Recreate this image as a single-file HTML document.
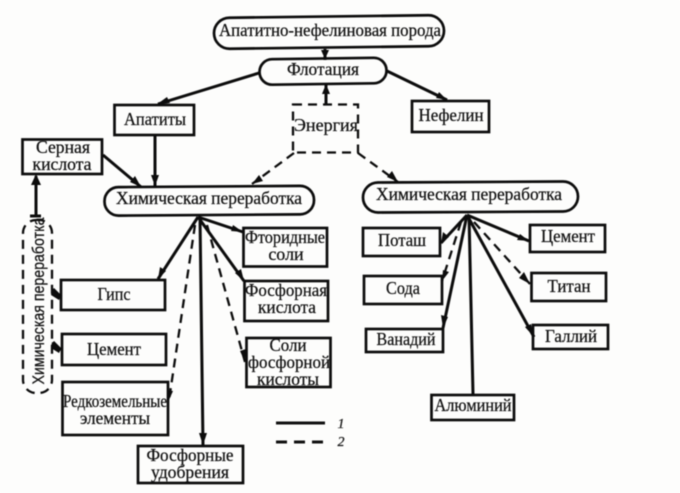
<!DOCTYPE html>
<html><head><meta charset="utf-8"><style>
html,body{margin:0;padding:0;background:#fdfdfc}
svg{display:block;filter:blur(.4px)}
text{font-family:"Liberation Serif",serif;font-size:18px;fill:#111;stroke:#111;stroke-width:.25;text-anchor:middle}
.b{fill:none;stroke:#0c0c0c;stroke-width:2.7}
.l{stroke:#0c0c0c;stroke-width:3;fill:none}
.d{stroke:#0c0c0c;stroke-width:2.300;fill:none;stroke-dasharray:9 6}
.a{fill:#0c0c0c;stroke:none}
</style></head><body>
<svg width="680" height="493" viewBox="0 0 680 493" xmlns="http://www.w3.org/2000/svg">
<rect width="680" height="493" fill="#fdfdfc"/>
<!-- pills -->
<rect class="b" x="214" y="16.500" width="230" height="31" rx="15.500" transform="rotate(-0.7 329 32)"/>
<rect class="b" x="259.500" y="58.500" width="127" height="25.500" rx="12.700" transform="rotate(-0.8 323 71)"/>
<rect class="b" x="104.500" y="186.500" width="209.500" height="28.500" rx="14" transform="rotate(-0.4 209 200)"/>
<rect class="b" x="363" y="182" width="215" height="30" rx="15" transform="rotate(-0.3 470 197)"/>
<!-- solid boxes -->
<rect class="b" x="114.500" y="105" width="79.500" height="30"/>
<rect class="b" x="22.500" y="139.500" width="79.500" height="34.500"/>
<rect class="b" x="412" y="101" width="77" height="31"/>
<rect class="b" x="243.500" y="228" width="83.500" height="38.500"/>
<rect class="b" x="61" y="280" width="104" height="30"/>
<rect class="b" x="62" y="334" width="104" height="31"/>
<rect class="b" x="62.500" y="382" width="105.500" height="53"/>
<rect class="b" x="138" y="446" width="105" height="37"/>
<rect class="b" x="244.500" y="281" width="83.500" height="40"/>
<rect class="b" x="246.500" y="338" width="84" height="49"/>
<rect class="b" x="363" y="228" width="77" height="28"/>
<rect class="b" x="364" y="276" width="78" height="28"/>
<rect class="b" x="366" y="329" width="77" height="23"/>
<rect class="b" x="530" y="225" width="75" height="27"/>
<rect class="b" x="531.500" y="273" width="74.500" height="28"/>
<rect class="b" x="533" y="325" width="75" height="24"/>
<rect class="b" x="431.500" y="395" width="82.500" height="25"/>
<!-- dashed shapes -->
<rect class="d" x="293" y="104.500" width="65" height="48" stroke-dasharray="10 6"/>
<rect class="d" x="23" y="220" width="29" height="173" rx="13" stroke-width="2.600" stroke-dasharray="10 7"/>
<!-- solid connectors -->
<path class="l" d="M325 49V60M326 84V104M259 73L158 104M387 71L447 100M155 136V186M103 155L141 187M36 216V176M30 216H41M198 217L158 279M198 217L243 232M198 217L244 281M200 217L203 445M467 215L441 243M467 215L529 241M467 215L443 328M467 215L534 337M469 215L473 394M53 289L61 297M53 342L61 350"/>
<!-- dashed connectors -->
<path class="d" d="M294 153L252 184M358 153L398 182M195 225L169 400M207 225L245 362M461 222L442 281M474 222L530 284"/>
<!-- arrowheads -->
<path class="a" d="M325 59l-4-9h8zM326 84l-4 10h8zM156 105l11-8 3 6zM447 100l-11-2 3-6zM155 186l-4-11h8zM141 187l-11-5 5-6zM36 174l-5 11h10zM158 279l2-12 6 4zM243 232l-12-1 2-6zM244 281l-9-8 6-4zM203 445l-4-12h8zM441 243l2-11 6 5zM529 241l-12-1 3-6zM443 328l-2-13 7 2zM534 337l-9-10 6-3zM252 184l7-9 4 6zM398 182l-11-5 5-6zM169 400l-2-10 6 1zM245 362l-5-11 6-2zM442 281l1-11 6 2zM530 284l-11-6 5-6zM52 289l9 7-2 4-8-5zM52 342l9 7-2 4-8-5z"/>
<!-- legend -->
<path d="M276 423H325" stroke="#111" stroke-width="3"/>
<path d="M276 442H326" stroke="#111" stroke-width="3" stroke-dasharray="11 7"/>
<text x="341" y="428" font-style="italic" style="font-size:14px">1</text><text x="341" y="446" font-style="italic" style="font-size:14px">2</text>
<!-- labels -->
<text x="330" y="36" textLength="222" lengthAdjust="spacingAndGlyphs">Апатитно-нефелиновая порода</text>
<text x="323" y="75" textLength="72" lengthAdjust="spacingAndGlyphs">Флотация</text>
<text x="155" y="125" textLength="62" lengthAdjust="spacingAndGlyphs">Апатиты</text>
<text x="451" y="121" textLength="65" lengthAdjust="spacingAndGlyphs">Нефелин</text>
<text x="326" y="131" textLength="64" lengthAdjust="spacingAndGlyphs">Энергия</text>
<text x="63" y="153" textLength="54" lengthAdjust="spacingAndGlyphs">Серная</text>
<text x="62" y="170" textLength="59" lengthAdjust="spacingAndGlyphs">кислота</text>
<text x="209" y="204" textLength="186" lengthAdjust="spacingAndGlyphs">Химическая переработка</text>
<text x="469" y="200" textLength="186" lengthAdjust="spacingAndGlyphs">Химическая переработка</text>
<text x="285" y="243" textLength="80" lengthAdjust="spacingAndGlyphs">Фторидные</text>
<text x="286" y="260">соли</text>
<text x="114" y="300" textLength="33" lengthAdjust="spacingAndGlyphs">Гипс</text>
<text x="114" y="355" textLength="54" lengthAdjust="spacingAndGlyphs">Цемент</text>
<text x="115" y="407" textLength="104" lengthAdjust="spacingAndGlyphs">Редкоземельные</text>
<text x="115" y="424" textLength="70" lengthAdjust="spacingAndGlyphs">элементы</text>
<text x="190" y="461" textLength="87" lengthAdjust="spacingAndGlyphs">Фосфорные</text>
<text x="190" y="478" textLength="78" lengthAdjust="spacingAndGlyphs">удобрения</text>
<text x="286" y="296" textLength="82" lengthAdjust="spacingAndGlyphs">Фосфорная</text>
<text x="287" y="313" textLength="58" lengthAdjust="spacingAndGlyphs">кислота</text>
<text x="288" y="351" textLength="37" lengthAdjust="spacingAndGlyphs">Соли</text>
<text x="289" y="368" textLength="82" lengthAdjust="spacingAndGlyphs">фосфорной</text>
<text x="288" y="385" textLength="62" lengthAdjust="spacingAndGlyphs">кислоты</text>
<text x="402" y="246" textLength="48" lengthAdjust="spacingAndGlyphs">Поташ</text>
<text x="403" y="294" textLength="34" lengthAdjust="spacingAndGlyphs">Сода</text>
<text x="406" y="345" textLength="59" lengthAdjust="spacingAndGlyphs">Ванадий</text>
<text x="568" y="242" textLength="54" lengthAdjust="spacingAndGlyphs">Цемент</text>
<text x="569" y="292" textLength="43" lengthAdjust="spacingAndGlyphs">Титан</text>
<text x="571" y="342" textLength="52" lengthAdjust="spacingAndGlyphs">Галлий</text>
<text x="473" y="411" textLength="77" lengthAdjust="spacingAndGlyphs">Алюминий</text>
<text transform="translate(44 301) rotate(-90)" textLength="167" lengthAdjust="spacingAndGlyphs" style="font-family:'Liberation Sans',sans-serif;font-size:17px">Химическая переработка</text>
</svg>
</body></html>
